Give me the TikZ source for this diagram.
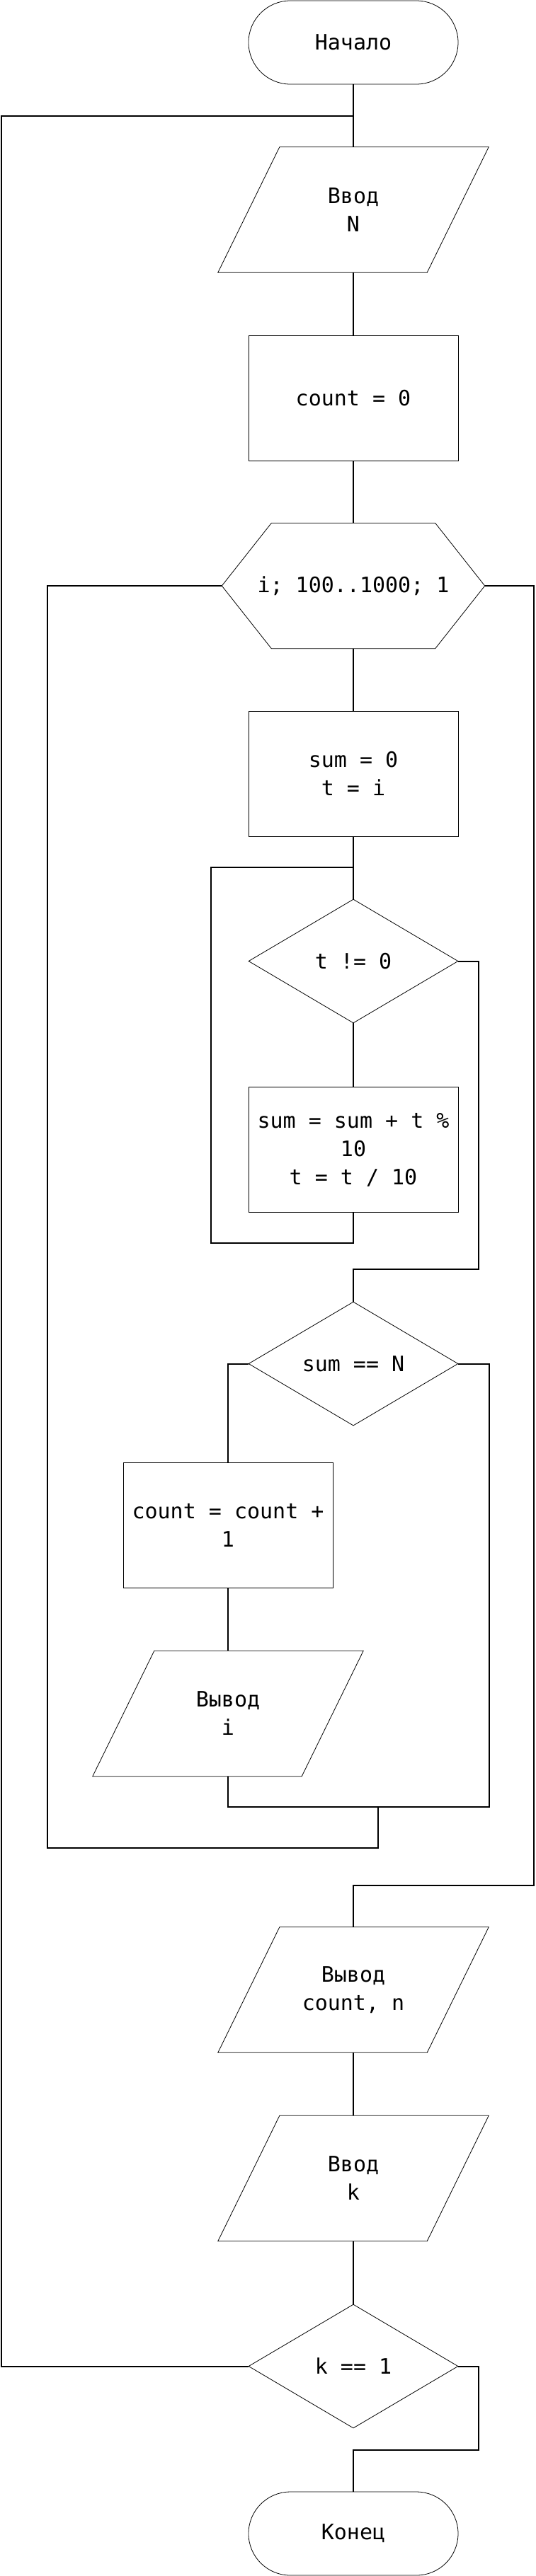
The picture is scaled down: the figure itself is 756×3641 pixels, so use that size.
\documentclass[tikz,border=0pt]{standalone}
\usepackage{fontspec}
\setmonofont{DejaVu Sans Mono}
\usetikzlibrary{shapes.geometric}

\begin{document}
\begin{tikzpicture}[x=1pt,y=-1pt]
\tikzstyle{every node}+=[inner sep=0pt,font=\ttfamily\fontsize{30}{40}\selectfont,align=center]
\tikzstyle{outline}=[draw,line width=0.8pt]
\tikzstyle{term}=[outline,rectangle,rounded corners=59pt,minimum width=296,minimum height=118]
\tikzstyle{proc}=[outline,rectangle,minimum width=296,minimum height=177]
\tikzstyle{io}=[rectangle,minimum width=382,minimum height=177]
\tikzstyle{cond}=[outline,diamond,minimum width=296,minimum height=175]
\tikzstyle{hexa}=[rectangle,minimum width=371,minimum height=177]
\tikzstyle{flow}=[line width=2pt]
\useasboundingbox (0,0) rectangle (756,3641);
\node [term] (start) at (499,60) {Начало};
\node [io] (inN) at (499,296.5) {Ввод\\N};
\node [proc] (cnt0) at (499,562.5) {count = 0};
\node [hexa] (loopi) at (499,828) {i; 100..1000; 1};
\draw [outline] (loopi.west) -- ([xshift=70pt]loopi.north west) -- ([xshift=-70pt]loopi.north east)
  -- (loopi.east) -- ([xshift=-70pt]loopi.south east) -- ([xshift=70pt]loopi.south west) -- cycle;
\node [proc] (init) at (499,1093.5) {sum = 0\\t = i};
\node [cond] (whileT) at (499,1358.5) {t != 0};
\node [proc] (body) at (499,1625) {sum = sum + t \%\\10\\t = t / 10};
\node [cond] (ifN) at (499,1927.5) {sum == N};
\node [proc] (inc) at (322,2155.5) {count = count +\\1};
\node [io] (outI) at (322,2422) {Вывод\\i};
\node [io] (outCnt) at (499,2812.5) {Вывод\\count, n};
\node [io] (inK) at (499,3079) {Ввод\\k};
\node [cond] (ifK) at (499,3344.5) {k == 1};
\node [term] (stop) at (499,3581) {Конец};
\foreach \n in {inN,outI,outCnt,inK}
  \draw [outline] ([xshift=87pt]\n.north west) -- (\n.north east) -- ([xshift=-87pt]\n.south east) -- (\n.south west) -- cycle;
\coordinate (j1) at (499,164);
\coordinate (j2) at (499,1226);
\coordinate (j3) at (534,2554);
\coordinate (ret1) at (2,164);
\coordinate (ret2) at (298,1757);
\coordinate (outT) at (676,1794);
\coordinate (outN) at (691,2554);
\coordinate (ret3) at (67,2612);
\coordinate (outL) at (754,2665);
\coordinate (outK) at (676,3463);
\draw [flow] (start) -- (inN);
\draw [flow] (inN) -- (cnt0);
\draw [flow] (cnt0) -- (loopi.north);
\draw [flow] (loopi.south) -- (init);
\draw [flow] (init) -- (whileT);
\draw [flow] (whileT) -- (body);
\draw [flow] (body.south) |- (ret2) |- (j2);
\draw [flow] (whileT.east) -| (outT) -| (ifN.north);
\draw [flow] (ifN.west) -| (inc.north);
\draw [flow] (inc) -- (outI);
\draw [flow] (outI.south) |- (outN) |- (ifN.east);
\draw [flow] (j3) |- (ret3) |- (loopi.west);
\draw [flow] (loopi.east) -| (outL) -| (outCnt.north);
\draw [flow] (outCnt) -- (inK);
\draw [flow] (inK) -- (ifK);
\draw [flow] (ifK.east) -| (outK) -| (stop.north);
\draw [flow] (ifK.west) -| (ret1) -- (j1);
\end{tikzpicture}
\end{document}
